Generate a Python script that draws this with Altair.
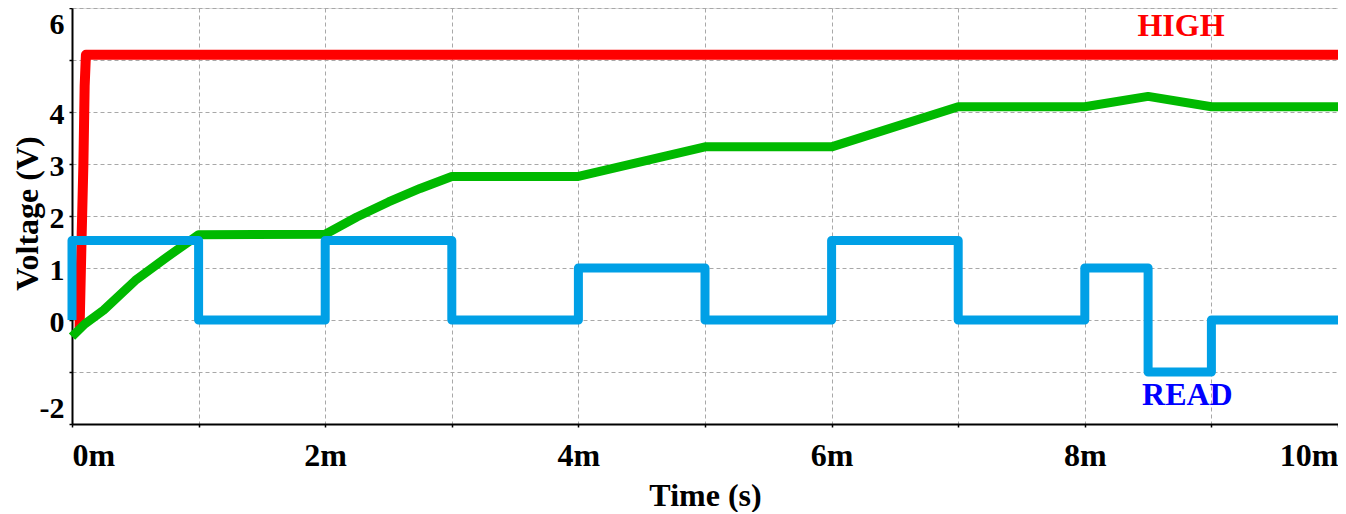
import altair as alt
import pandas as pd

# ---- data ----
red_t = [0.06, 0.075, 0.09, 0.10, 0.11, 10.0]
red_v = [-0.15, 1.5, 3.0, 4.5, 5.1, 5.1]

green_t = [0.0, 0.1, 0.25, 0.5, 0.75, 1.0, 2.0, 2.25, 2.5, 2.75, 3.0,
           4.0, 5.0, 6.0, 7.0, 8.0, 8.5, 9.0, 10.0]
green_v = [-0.32, -0.08, 0.19, 0.76, 1.21, 1.64, 1.65, 1.98, 2.27, 2.53, 2.76,
           2.76, 3.33, 3.33, 4.10, 4.10, 4.30, 4.10, 4.10]

blue_t = [0.0, 0.0, 1.0, 2.0, 3.0, 4.0, 5.0, 6.0, 7.0, 8.0, 8.5, 9.0, 10.0]
blue_v = [0.0, 1.53, 0.0, 1.53, 0.0, 1.0, 0.0, 1.53, 0.0, 1.0, -1.0, 0.0, 0.0]

x_ticks = list(range(0, 11))
y_ticks = [-2, -1, 0, 1, 2, 3, 4, 5, 6]

label_text = ["HIGH", "READ"]
label_t = [8.76, 8.81]
label_v = [5.46, -1.63]
label_color = ["#ff0000", "#0000ff"]

FONT = "Liberation Serif"

red_df = pd.DataFrame({"t": red_t, "v": red_v})
green_df = pd.DataFrame({"t": green_t, "v": green_v})
blue_df = pd.DataFrame({"t": blue_t, "v": blue_v})
lab_df = pd.DataFrame({"t": label_t, "v": label_v, "text": label_text, "c": label_color})

x_scale = alt.Scale(domain=[0, 10], nice=False, zero=False)
y_scale = alt.Scale(domain=[-2, 6], nice=False, zero=False)

x_axis = alt.Axis(
    values=x_ticks,
    labelExpr="datum.value % 2 == 0 ? datum.value + 'm' : ''",
    labelFlush=True,
    labelOverlap=False,
    labelFont=FONT, labelFontSize=32, labelFontWeight="bold", labelColor="black",
    labelBaseline="alphabetic", labelPadding=38,
    tickSize=3, tickColor="black", tickWidth=1.5,
    domainColor="black", domainWidth=2,
    grid=True, gridColor="#a8a8a8", gridDash=[4, 3], gridWidth=1,
    title="Time (s)", titleFont=FONT, titleFontSize=32, titleFontWeight="bold",
    titleColor="black", titleBaseline="alphabetic", titleY=81,
)

y_axis = alt.Axis(
    values=y_ticks,
    labelExpr="(datum.value == 5 || datum.value == -1) ? '' : '' + datum.value",
    labelOverlap=False,
    labelFont=FONT, labelFontSize=30, labelFontWeight="bold", labelColor="black",
    labelBaseline="alphabetic", labelPadding=5,
    labelOffset={"condition": [{"test": "datum.value == 6", "value": 25},
                               {"test": "datum.value == -2", "value": -7}],
                 "value": 11},
    tickSize=3, tickColor="black", tickWidth=1.5,
    domainColor="black", domainWidth=2,
    grid=True, gridColor="#a8a8a8", gridDash=[4, 3], gridWidth=1,
    title="Voltage (V)", titleFont=FONT, titleFontSize=32, titleFontWeight="bold",
    titleColor="black", titleBaseline="alphabetic", titleAngle=270,
    titleX=-35, titleY=205, titleAlign="center",
)

red = alt.Chart(red_df).mark_line(color="#ff0000", strokeWidth=10, strokeJoin="round").encode(
    x=alt.X("t:Q", scale=x_scale, axis=x_axis),
    y=alt.Y("v:Q", scale=y_scale, axis=y_axis),
    order="t:Q",
)
green = alt.Chart(green_df).mark_line(color="#00b900", strokeWidth=9, strokeJoin="round").encode(
    x=alt.X("t:Q", scale=x_scale),
    y=alt.Y("v:Q", scale=y_scale),
)
blue = alt.Chart(blue_df).mark_line(color="#00a0e6", strokeWidth=9, strokeJoin="round",
                                     interpolate="step-after").encode(
    x=alt.X("t:Q", scale=x_scale),
    y=alt.Y("v:Q", scale=y_scale),
)
labels = alt.Chart(lab_df).mark_text(font=FONT, fontSize=32, fontWeight="bold",
                                     align="center", baseline="alphabetic").encode(
    x=alt.X("t:Q", scale=x_scale),
    y=alt.Y("v:Q", scale=y_scale),
    text="text:N",
    color=alt.Color("c:N", scale=None),
)

chart = alt.layer(red, green, blue, labels).properties(
    width=1266, height=416,
    autosize=alt.AutoSizeParams(type="none"),
    padding={"left": 64, "top": 0, "right": 0, "bottom": 88},
).configure_view(stroke=None).configure(background="white")

chart.save("out.html", embed_options={"renderer": "svg", "actions": False})
